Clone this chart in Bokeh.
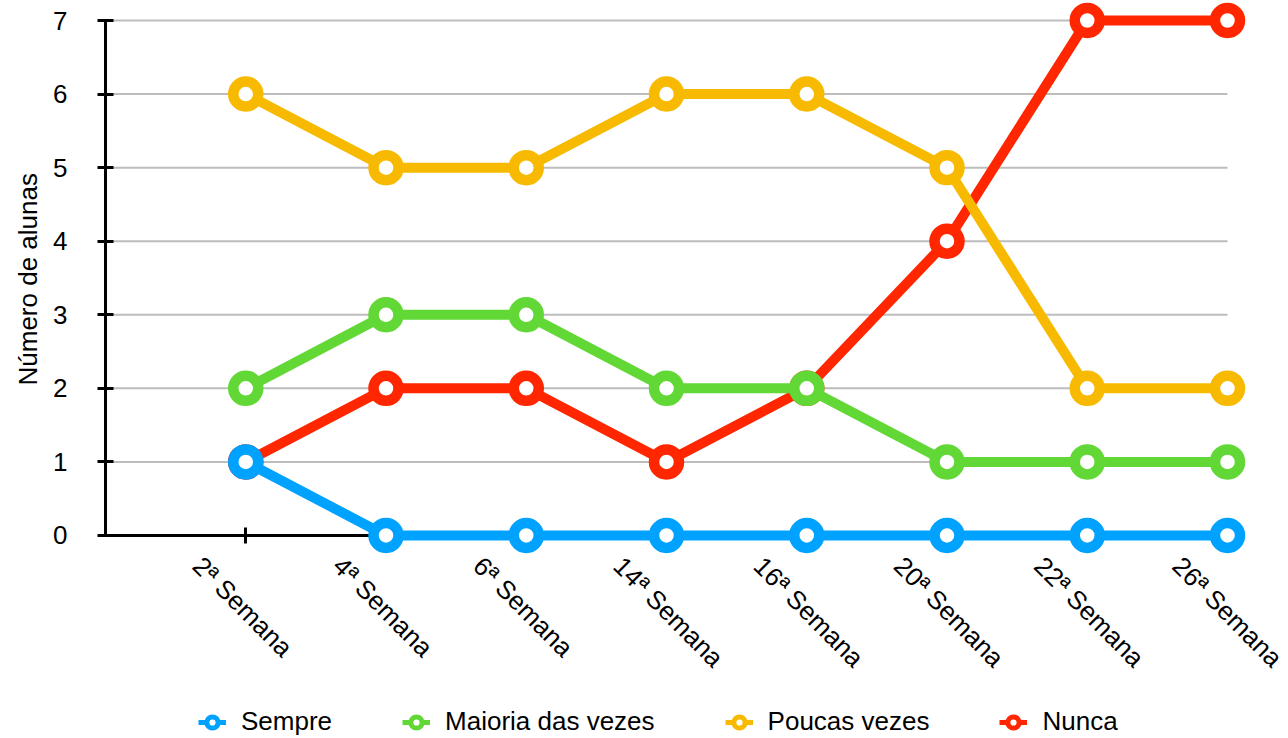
import math
from bokeh.plotting import figure
from bokeh.models import (Range1d, FixedTicker, ColumnDataSource, LinearAxis,
                          Legend, LegendItem, Title)
from bokeh.embed import file_html
from bokeh.resources import INLINE

weeks = ["2ª Semana", "4ª Semana", "6ª Semana", "14ª Semana",
         "16ª Semana", "20ª Semana", "22ª Semana", "26ª Semana"]
sempre = [1, 0, 0, 0, 0, 0, 0, 0]
maioria = [2, 3, 3, 2, 2, 1, 1, 1]
poucas = [6, 5, 5, 6, 6, 5, 2, 2]
nunca = [1, 2, 2, 1, 2, 4, 7, 7]
y_ticks = [0, 1, 2, 3, 4, 5, 6, 7]
y_title = "Número de alunas"

series = [
    ("Sempre", sempre, "#00A2FF"),
    ("Maioria das vezes", maioria, "#61D836"),
    ("Poucas vezes", poucas, "#F8BA00"),
    ("Nunca", nunca, "#FF2600"),
]

FONT = "Liberation Sans"
n = len(weeks)
xs = list(range(1, n + 1))
PX_X = 140.25             # pixels per category step
PX_Y = 73.57              # pixels per unit on y
FRAME_W = 1183
FRAME_H = 738
X_END = FRAME_W / PX_X
Y_TOP = y_ticks[-1] + 20 / PX_Y
Y_BOTTOM = Y_TOP - FRAME_H / PX_Y
LAB_SHIFT = 0.345         # labels start a bit left of their tick

p = figure(width=1288, height=738, output_backend="svg", toolbar_location=None,
           x_range=Range1d(0, X_END), y_range=Range1d(Y_BOTTOM, Y_TOP),
           frame_width=FRAME_W, frame_height=FRAME_H,
           min_border_left=105, min_border_top=0, min_border_right=0,
           min_border_bottom=0)
p.outline_line_color = None
p.background_fill_color = "white"
p.border_fill_color = "white"
p.xgrid.visible = False
p.ygrid.visible = False

# grid lines (stop at last category)
p.segment(x0=[0] * (len(y_ticks) - 1), x1=[n] * (len(y_ticks) - 1),
          y0=y_ticks[1:], y1=y_ticks[1:], line_color="#BDBDBD", line_width=2)

# default x axis: rotated category labels at y = 0, shifted left via an extra range
p.extra_x_ranges = {"lab": Range1d(LAB_SHIFT, X_END + LAB_SHIFT)}
xl = p.xaxis[0]
xl.x_range_name = "lab"
xl.fixed_location = 0
xl.ticker = FixedTicker(ticks=xs)
xl.major_label_overrides = {x: w for x, w in zip(xs, weeks)}
xl.major_label_orientation = -math.pi / 4
xl.major_label_text_font = FONT
xl.major_label_text_font_size = "26px"
xl.major_label_text_color = "black"
xl.major_label_standoff = 26
xl.axis_line_color = None
xl.major_tick_line_color = None
xl.minor_tick_line_color = None
xl.major_tick_in = 0
xl.major_tick_out = 0

# x axis line + ticks at y = 0, drawn under the series
xt = LinearAxis(fixed_location=0, bounds=(0, n), ticker=FixedTicker(ticks=xs),
                major_label_overrides={x: "" for x in xs},
                major_label_text_font_size="1px", major_label_standoff=0,
                axis_line_color="black", axis_line_width=3,
                major_tick_line_color="black", major_tick_line_width=3,
                major_tick_in=8, major_tick_out=8,
                minor_tick_line_color=None, level="underlay")
p.add_layout(xt, "below")

ya = p.yaxis[0]
ya.ticker = FixedTicker(ticks=y_ticks)
ya.bounds = (0, y_ticks[-1])
ya.axis_line_color = "black"
ya.axis_line_width = 3
ya.major_tick_line_color = "black"
ya.major_tick_line_width = 3
ya.major_tick_in = 8
ya.major_tick_out = 8
ya.minor_tick_line_color = None
ya.major_label_text_font = FONT
ya.major_label_text_font_size = "26px"
ya.major_label_text_color = "black"
ya.major_label_standoff = 30

# y title, placed along the 0..7 span (offset up from the frame bottom)
p.add_layout(Title(text=y_title, align="left", offset=353, standoff=16,
                   text_font=FONT, text_font_size="26px",
                   text_font_style="normal", text_color="black"), "left")

# legend proxy renderers (thin), drawn first so they hide under main marks
legend_items = []
for name, vals, color in series:
    src = ColumnDataSource(dict(x=xs, y=vals))
    lr = p.line("x", "y", source=src, line_color=color, line_width=5)
    sr = p.scatter("x", "y", source=src, size=4, marker="circle",
                   fill_color="white", line_color=color, line_width=5)
    legend_items.append(LegendItem(label=name, renderers=[lr, sr]))

# main series, drawn in reverse order (Nunca at the bottom)
for name, vals, color in reversed(series):
    src = ColumnDataSource(dict(x=xs, y=vals))
    p.line("x", "y", source=src, line_color=color, line_width=10)
    p.scatter("x", "y", source=src, size=25, marker="circle",
              fill_color="white", line_color=color, line_width=10.5)

legend = Legend(items=legend_items, orientation="horizontal",
                location=(93, 1), glyph_width=28, glyph_height=30,
                label_standoff=15, spacing=70, padding=2, margin=0,
                label_text_font=FONT, label_text_font_size="26px",
                label_text_color="black", background_fill_alpha=0,
                border_line_color=None)
p.add_layout(legend)

open("out.html", "w").write(file_html(p, INLINE))
